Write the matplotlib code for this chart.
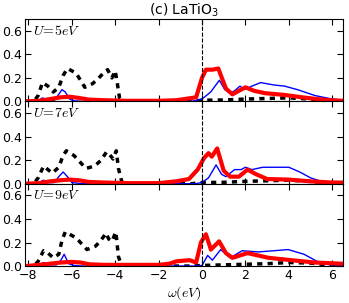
import matplotlib
matplotlib.use('Agg')
import matplotlib.pyplot as plt

# values (energy in eV, DOS)
labels = ['$U\\!=\\!5eV$', '$U\\!=\\!7eV$', '$U\\!=\\!9eV$']

# black dashed (O p)
black_x = [[-8.1, -7.75, -7.55, -7.35, -7.1, -6.85, -6.6, -6.4, -6.2, -5.8, -5.4, -5.05, -4.8, -4.55, -4.35, -4.15, -4.0, -3.9, -3.8, -3.65,
            -2, -0.5, 0, 1, 2, 3, 4, 5, 6, 6.5],
           [-8.1, -7.75, -7.55, -7.3, -7.1, -6.9, -6.6, -6.4, -6.25, -5.9, -5.35, -4.95, -4.65, -4.4, -4.3, -4.1, -3.95, -3.85, -3.7, -3.6,
            -2, -0.5, 0, 1, 2, 3, 4, 5, 6, 6.5],
           [-8.1, -7.75, -7.55, -7.3, -7.1, -6.85, -6.6, -6.45, -6.3, -5.8, -5.3, -4.9, -4.65, -4.42, -4.3, -4.15, -3.97, -3.85, -3.72, -3.6,
            -2, -0.5, 0, 1, 2, 3, 4, 5, 6, 6.5]]
black_y = [[0, 0, 0.05, 0.16, 0.13, 0.08, 0.12, 0.22, 0.28, 0.24, 0.12, 0.15, 0.19, 0.24, 0.27, 0.2, 0.26, 0.15, 0.03, 0,
            0, 0, 0.01, 0.012, 0.02, 0.025, 0.03, 0.02, 0.005, 0],
           [0, 0, 0.05, 0.15, 0.12, 0.09, 0.14, 0.24, 0.28, 0.24, 0.13, 0.15, 0.2, 0.27, 0.26, 0.21, 0.28, 0.13, 0.02, 0,
            0, 0, 0.01, 0.012, 0.02, 0.025, 0.03, 0.02, 0.005, 0],
           [0, 0, 0.04, 0.13, 0.11, 0.07, 0.1, 0.22, 0.29, 0.24, 0.14, 0.17, 0.22, 0.28, 0.23, 0.21, 0.29, 0.08, 0.01, 0,
            0, 0, 0.005, 0.01, 0.015, 0.02, 0.03, 0.025, 0.005, 0]]

# blue thin
blue_x = [[-8.1, -7.6, -7.35, -7.1, -6.8, -6.6, -6.45, -6.3, -6.1, -5.9, -5.5, -1, -0.5, 0, 0.4, 0.8, 1.05, 1.3, 1.5, 1.75, 1.95, 2.3, 2.7, 3.3, 3.8, 4.4, 5.2, 6.0, 6.5],
          [-8.1, -7.6, -7.3, -7.05, -6.8, -6.6, -6.4, -6.2, -6.0, -5.5, -1, -0.3, 0, 0.3, 0.65, 0.9, 1.1, 1.5, 1.8, 2.0, 2.3, 2.8, 3.5, 4.0, 4.5, 5.0, 5.5, 6.0, 6.5],
          [-8.1, -7.6, -7.3, -7.0, -6.7, -6.5, -6.35, -6.15, -5.9, -5.5, -1, -0.3, 0, 0.26, 0.48, 0.86, 1.3, 1.85, 2.6, 3.3, 3.97, 4.7, 5.3, 5.9, 6.5]]
blue_y = [[0, 0, 0.03, 0.01, 0.01, 0.06, 0.1, 0.08, 0.02, 0.005, 0, 0, 0, 0.02, 0.08, 0.18, 0.1, 0.07, 0.09, 0.13, 0.1, 0.13, 0.16, 0.14, 0.13, 0.1, 0.05, 0.02, 0.01],
          [0, 0, 0.03, 0.01, 0.01, 0.06, 0.1, 0.06, 0.01, 0, 0, 0, 0.01, 0.05, 0.16, 0.08, 0.06, 0.12, 0.12, 0.14, 0.12, 0.14, 0.14, 0.14, 0.1, 0.05, 0.02, 0.01, 0.005],
          [0, 0, 0.03, 0.01, 0.01, 0.05, 0.1, 0.02, 0.005, 0, 0, 0, 0.005, 0.09, 0.05, 0.14, 0.07, 0.13, 0.12, 0.13, 0.14, 0.1, 0.04, 0.01, 0.005]]

# red thick
red_x = [[-8.1, -7.5, -7.0, -6.5, -6.1, -5.7, -5.2, -4.5, -3.5, -2, -1.2, -0.8, -0.27, 0.0, 0.18, 0.5, 0.75, 1.1, 1.4, 1.7, 2.0, 2.4, 2.9, 3.8, 4.6, 5.3, 5.9, 6.5],
         [-8.1, -7.5, -7.0, -6.5, -6.1, -5.7, -5.2, -4.5, -3.5, -2, -1.2, -0.6, -0.2, 0.1, 0.3, 0.45, 0.7, 1.0, 1.3, 1.7, 2.1, 2.5, 3.0, 4.0, 5.0, 6.0, 6.5],
         [-8.1, -7.5, -7.0, -6.5, -6.0, -5.6, -5.2, -4.5, -3.5, -2, -1.5, -1.18, -0.57, -0.27, -0.05, 0.18, 0.41, 0.79, 1.1, 1.4, 2.1, 3.06, 4.1, 5.2, 6.4, 6.5]]
red_y = [[0, 0.005, 0.02, 0.035, 0.04, 0.03, 0.015, 0.01, 0.005, 0.005, 0.01, 0.02, 0.035, 0.2, 0.27, 0.27, 0.28, 0.11, 0.06, 0.09, 0.12, 0.09, 0.07, 0.055, 0.035, 0.02, 0.01, 0.005],
         [0, 0.005, 0.02, 0.03, 0.035, 0.03, 0.015, 0.01, 0.005, 0.005, 0.02, 0.04, 0.12, 0.22, 0.26, 0.23, 0.3, 0.11, 0.06, 0.06, 0.12, 0.08, 0.04, 0.035, 0.02, 0.01, 0.01],
         [0, 0.01, 0.02, 0.03, 0.035, 0.03, 0.015, 0.01, 0.01, 0.01, 0.02, 0.04, 0.05, 0.03, 0.2, 0.27, 0.14, 0.21, 0.11, 0.07, 0.11, 0.07, 0.05, 0.03, 0.02, 0.02]]

x_ticks = [-8, -6, -4, -2, 0, 2, 4, 6]
y_ticks = [0.0, 0.2, 0.4, 0.6]

plt.rcParams['font.size'] = 9
fig, axes = plt.subplots(3, 1, sharex=True, figsize=(3.49, 3.03), dpi=100)
fig.subplots_adjust(left=0.072, right=0.983, top=0.937, bottom=0.122, hspace=0)

for i, ax in enumerate(axes):
    ax.plot(black_x[i], black_y[i], color='k', lw=2.5, dashes=(1.5, 1.5))
    ax.plot(blue_x[i], blue_y[i], color='b', lw=1)
    ax.plot(red_x[i], red_y[i], color='r', lw=3)
    ax.axvline(0, color='k', lw=0.8, ls='--')
    ax.set_xlim(-8.15, 6.5)
    ax.set_ylim(0, 0.7)
    ax.set_yticks(y_ticks)
    ax.set_xticks(x_ticks)
    ax.tick_params(direction='in', top=True, right=True, length=4, pad=2)
    ax.text(-7.8, 0.6, labels[i], fontsize=10, va='center', math_fontfamily='cm')

axes[0].set_title('(c) LaTiO$_3$', fontsize=10, pad=2)
axes[-1].set_xlabel('$\\omega(eV)$', labelpad=2, fontsize=10, math_fontfamily='cm')

fig.savefig('out.png', dpi=100)
